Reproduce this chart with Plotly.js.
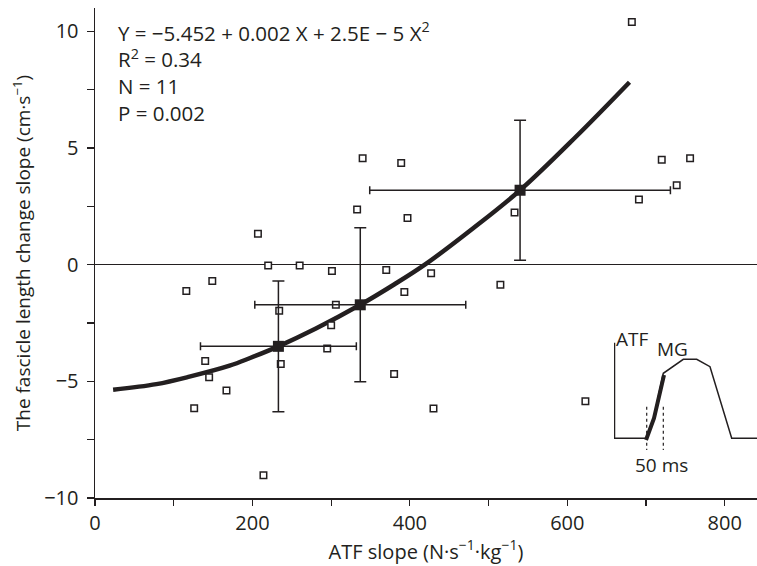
<!DOCTYPE html>
<html>
<head>
<meta charset="utf-8">
<script src="https://cdn.plot.ly/plotly-3.0.1.min.js"></script>
<style>html,body{margin:0;padding:0;background:#fff;}#chart{width:757px;height:566px;}</style>
</head>
<body>
<div id="chart"></div>
<script>
// Individual subjects
var atfX = [682, 340, 389, 333, 397, 720, 756, 739, 691, 533, 220, 260, 301, 370, 427, 149, 116, 207, 393, 515, 306, 234, 300, 295, 140, 236, 145, 167, 126, 380, 430, 623, 214];
var slopeY = [10.4, 4.56, 4.36, 2.36, 2.0, 4.5, 4.56, 3.4, 2.79, 2.24, -0.04, -0.04, -0.27, -0.23, -0.37, -0.7, -1.13, 1.33, -1.17, -0.86, -1.72, -1.97, -2.6, -3.59, -4.13, -4.26, -4.83, -5.39, -6.15, -4.69, -6.16, -5.85, -9.03];
// Group means with SD
var meanX = [233, 337, 540];
var meanY = [-3.5, -1.72, 3.19];
var meanXErr = [99, 134, 191];
var meanYErr = [2.8, 3.3, 3.0];
// Regression curve
var fitX = [23, 78, 120, 171, 197, 233, 280, 337, 380, 419, 480, 540, 610, 679];
var fitY = [-5.36, -5.12, -4.80, -4.33, -4.00, -3.50, -2.75, -1.72, -0.85, 0.0, 1.55, 3.19, 5.45, 7.82];
// Tick labels
var xTicks = [0, 200, 400, 600, 800];
var yTicks = [-10, -5, 0, 5, 10];
var yTickText = ['−10', '−5', '0', '5', '10'];
// Regression text lines
var statLines = ['Y = −5.452 + 0.002 X + 2.5E − 5 X<sup>2</sup>', 'R<sup>2</sup> = 0.34', 'N = 11', 'P = 0.002'];
// Inset schematic (ATF of MG)
var insetCurveX = [0, 32.7, 39.3, 49.3, 69.3, 82.7, 96, 117.7, 143];
var insetCurveY = [0, 0, 18.3, 65, 79, 79, 71.6, 0, 0];
var insetThickX = [32, 40, 50];
var insetThickY = [-1.7, 20, 63.3];
var insetAxisX = [0.5, 0.5];
var insetAxisY = [0, 95.6];
var insetDot1X = [32.7, 32.7], insetDot2X = [49.3, 49.3];
var insetDotY = [31.6, -11.7];
var insetLabels = ['ATF', 'MG', '50 ms'];

var ink = '#231f20';
var font = 'Open Sans, Noto Sans, sans-serif';

var traces = [
  {x: fitX, y: fitY, mode: 'lines', line: {color: ink, width: 4.5, shape: 'spline'}, hoverinfo: 'skip'},
  {x: atfX, y: slopeY, mode: 'markers', marker: {symbol: 'square', size: 6.5, color: '#fff', line: {color: ink, width: 1.5}}},
  {x: meanX, y: meanY, mode: 'markers', marker: {symbol: 'square', size: 11, color: ink},
   error_x: {type: 'data', array: meanXErr, visible: true, color: ink, thickness: 1.5, width: 4},
   error_y: {type: 'data', array: meanYErr, visible: true, color: ink, thickness: 1.5, width: 6}},
  {x: insetAxisX, y: insetAxisY, xaxis: 'x2', yaxis: 'y2', mode: 'lines', line: {color: ink, width: 1.5}},
  {x: insetCurveX, y: insetCurveY, xaxis: 'x2', yaxis: 'y2', mode: 'lines', line: {color: ink, width: 1.5}},
  {x: insetThickX, y: insetThickY, xaxis: 'x2', yaxis: 'y2', mode: 'lines', line: {color: ink, width: 4}},
  {x: insetDot1X, y: insetDotY, xaxis: 'x2', yaxis: 'y2', mode: 'lines', line: {color: ink, width: 1.2, dash: 'dot'}},
  {x: insetDot2X, y: insetDotY, xaxis: 'x2', yaxis: 'y2', mode: 'lines', line: {color: ink, width: 1.2, dash: 'dot'}}
];

var annFont = {family: font, size: 20.5, color: ink};
var insFont = {family: font, size: 19, color: ink};
var anns = [
  {xref: 'x', yref: 'y', x: 28, y: 8.27, xanchor: 'left', yanchor: 'middle', align: 'left', showarrow: false, borderpad: 0, text: statLines.join('<br>'), font: annFont},
  {xref: 'paper', yref: 'paper', x: 0.785, y: 0.3245, xanchor: 'left', yanchor: 'middle', showarrow: false, borderpad: 0, text: insetLabels[0], font: insFont},
  {xref: 'paper', yref: 'paper', x: 0.847, y: 0.305, xanchor: 'left', yanchor: 'middle', showarrow: false, borderpad: 0, text: insetLabels[1], font: insFont},
  {xref: 'paper', yref: 'paper', x: 0.855, y: 0.0673, xanchor: 'center', yanchor: 'middle', showarrow: false, borderpad: 0, text: insetLabels[2], font: insFont}
];

var layout = {
  width: 757, height: 566,
  margin: {l: 95, r: 0, t: 8, b: 68},
  paper_bgcolor: '#fff', plot_bgcolor: '#fff',
  showlegend: false,
  font: {family: font, size: 20, color: ink},
  xaxis: {
    range: [0, 841], showgrid: false, zeroline: false,
    showline: true, linecolor: ink, linewidth: 1.5,
    tickmode: 'array', tickvals: xTicks, ticktext: xTicks.map(String),
    tickfont: {family: font, size: 20, color: ink},
    ticks: 'outside', ticklen: 6, tickwidth: 1.2, tickcolor: ink,
    minor: {dtick: 100, tick0: 0, ticks: 'outside', ticklen: 6, tickwidth: 1.2, tickcolor: ink},
    title: {text: 'ATF slope (N·s<sup>−1</sup>·kg<sup>−1</sup>)', font: {family: font, size: 20, color: ink}, standoff: 4},
    domain: [0, 1]
  },
  yaxis: {
    range: [-10, 11.0], showgrid: false,
    zeroline: true, zerolinecolor: ink, zerolinewidth: 1.5,
    showline: true, linecolor: ink, linewidth: 1.5,
    tickmode: 'array', tickvals: yTicks, ticktext: yTickText,
    tickfont: {family: font, size: 20, color: ink},
    ticks: 'outside', ticklen: 7, tickwidth: 1.2, tickcolor: ink,
    minor: {dtick: 2.5, tick0: 0, ticks: 'outside', ticklen: 7, tickwidth: 1.2, tickcolor: ink},
    ticklabelstandoff: 4,
    title: {text: 'The fascicle length change slope (cm·s<sup>−1</sup>)', font: {family: font, size: 19, color: ink}, standoff: 8}
  },
  xaxis2: {domain: [0.784, 1], range: [0, 143], visible: false, anchor: 'y2'},
  yaxis2: {domain: [0.098, 0.3224], range: [-11.7, 98.3], visible: false, anchor: 'x2'},
  annotations: anns
};

Plotly.newPlot('chart', traces, layout, {staticPlot: true, displayModeBar: false});
</script>
</body>
</html>
